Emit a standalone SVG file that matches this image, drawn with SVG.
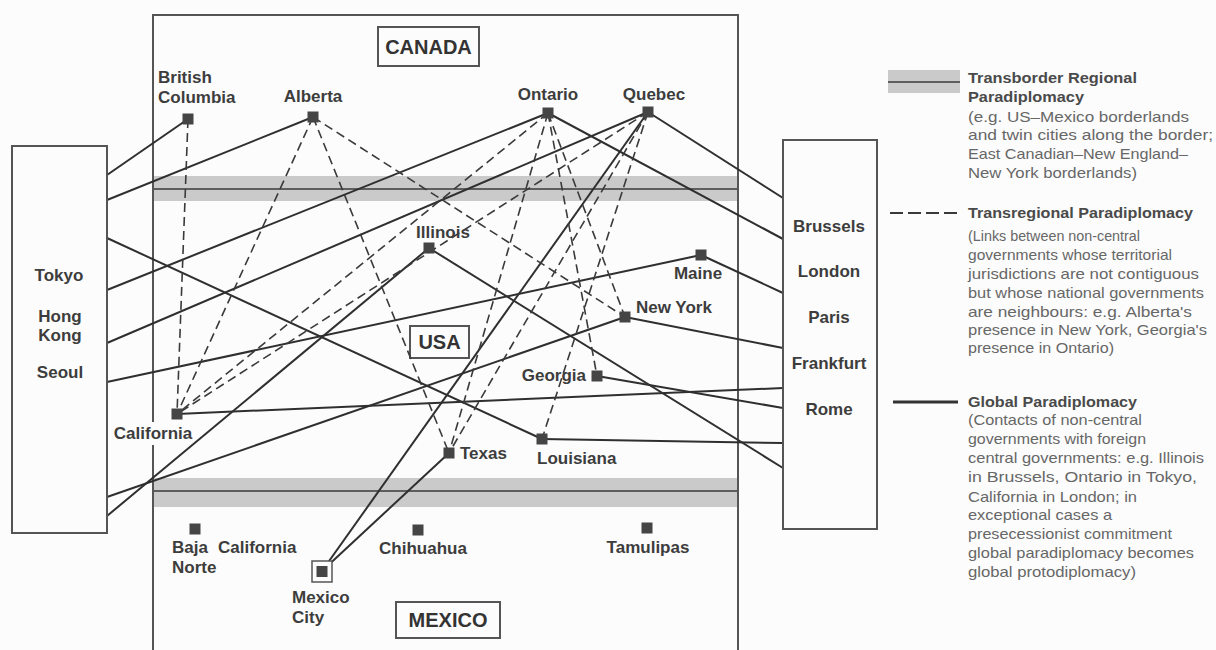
<svg xmlns="http://www.w3.org/2000/svg" width="1216" height="650" viewBox="0 0 1216 650">
  <style>
    .frame { fill: none; stroke: #555; stroke-width: 2; }
    .band { fill: #cacaca; }
    .bline { stroke: #3a3a3a; stroke-width: 1.6; }
    .sol { fill: none; stroke: #2f2f2f; stroke-width: 2; }
    .dsh { fill: none; stroke: #3a3a3a; stroke-width: 1.6; stroke-dasharray: 9 5; }
    .sq { fill: #454545; }
    .lbl { font-family: "Liberation Sans", Arial, sans-serif; font-weight: bold; font-size: 17px; fill: #3d3d3d; }
    .cty { font-size: 20px; fill: #333; }
    .lgh { font-family: "Liberation Sans", Arial, sans-serif; font-weight: bold; font-size: 14.5px; fill: #4a4a4a; }
    .lgt { font-family: "Liberation Sans", Arial, sans-serif; font-size: 14.5px; fill: #676767; }
  </style>

  <rect x="0" y="0" width="1216" height="650" fill="#fcfcfc"/>

  <!-- North American frame (left edge broken by the California label) -->
  <g id="frame">
    <path class="frame" d="M153,422 V15 H738 V650"/>
    <path class="frame" d="M153,445 V650"/>
    <!-- Canada / USA border zone -->
    <rect class="band" x="154" y="176" width="583" height="25"/>
    <line class="bline" x1="154" y1="189" x2="737" y2="189"/>
    <!-- USA / Mexico border zone -->
    <rect class="band" x="154" y="478" width="583" height="29"/>
    <line class="bline" x1="154" y1="491" x2="737" y2="491"/>
  </g>

  <!-- Country captions -->
  <g id="country-canada">
    <rect class="frame" x="378" y="27" width="101" height="39"/>
    <text class="lbl cty" x="428.5" y="54" text-anchor="middle">CANADA</text>
  </g>
  <g id="country-usa">
    <rect class="frame" x="410" y="326" width="59" height="32"/>
    <text class="lbl cty" x="439.5" y="349" text-anchor="middle">USA</text>
  </g>
  <g id="country-mexico">
    <rect class="frame" x="396" y="602" width="104" height="36"/>
    <text class="lbl cty" x="448" y="627" text-anchor="middle">MEXICO</text>
  </g>

  <!-- Connectors -->
  <g id="connectors">
    <!-- global paradiplomacy: Asia -->
    <line class="sol" x1="107" y1="175" x2="188" y2="119"/>
    <line class="sol" x1="107" y1="200" x2="313" y2="117"/>
    <line class="sol" x1="107" y1="238" x2="542" y2="439"/>
    <line class="sol" x1="107" y1="290" x2="548" y2="113"/>
    <line class="sol" x1="107" y1="343" x2="648" y2="112"/>
    <line class="sol" x1="107" y1="382" x2="701" y2="255"/>
    <line class="sol" x1="107" y1="497" x2="625" y2="317"/>
    <line class="sol" x1="107" y1="516" x2="429" y2="248"/>
    <!-- global paradiplomacy: Europe -->
    <line class="sol" x1="648" y1="112" x2="783" y2="198"/>
    <line class="sol" x1="548" y1="113" x2="783" y2="239"/>
    <line class="sol" x1="701" y1="255" x2="783" y2="293"/>
    <line class="sol" x1="625" y1="317" x2="783" y2="348"/>
    <line class="sol" x1="177" y1="414" x2="783" y2="388"/>
    <line class="sol" x1="597" y1="376" x2="783" y2="408"/>
    <line class="sol" x1="542" y1="439" x2="783" y2="443"/>
    <line class="sol" x1="429" y1="248" x2="783" y2="468"/>
    <!-- Mexico City -->
    <line class="sol" x1="322" y1="571" x2="648" y2="112"/>
    <line class="sol" x1="322" y1="571" x2="449" y2="453"/>

    <!-- transregional paradiplomacy -->
    <line class="dsh" x1="188" y1="119" x2="177" y2="414"/>
    <line class="dsh" x1="313" y1="117" x2="177" y2="414"/>
    <line class="dsh" x1="313" y1="117" x2="449" y2="453"/>
    <line class="dsh" x1="313" y1="117" x2="625" y2="317"/>
    <line class="dsh" x1="548" y1="113" x2="177" y2="414"/>
    <line class="dsh" x1="548" y1="113" x2="449" y2="453"/>
    <line class="dsh" x1="548" y1="113" x2="597" y2="376"/>
    <line class="dsh" x1="548" y1="113" x2="625" y2="317"/>
    <line class="dsh" x1="648" y1="112" x2="177" y2="414"/>
    <line class="dsh" x1="648" y1="112" x2="449" y2="453"/>
    <line class="dsh" x1="648" y1="112" x2="542" y2="439"/>
  </g>

  <!-- Foreign partners -->
  <g id="asia">
    <rect x="12" y="146" width="95" height="387" fill="#fcfcfc" stroke="#555" stroke-width="2"/>
    <text class="lbl" x="59" y="281" text-anchor="middle">Tokyo</text>
    <text class="lbl" x="60" y="322" text-anchor="middle">Hong</text>
    <text class="lbl" x="60" y="341" text-anchor="middle">Kong</text>
    <text class="lbl" x="60" y="378" text-anchor="middle">Seoul</text>
  </g>
  <g id="europe">
    <rect x="783" y="140" width="94" height="389" fill="#fcfcfc" stroke="#555" stroke-width="2"/>
    <text class="lbl" x="829" y="232" text-anchor="middle">Brussels</text>
    <text class="lbl" x="829" y="277" text-anchor="middle">London</text>
    <text class="lbl" x="829" y="323" text-anchor="middle">Paris</text>
    <text class="lbl" x="829" y="369" text-anchor="middle">Frankfurt</text>
    <text class="lbl" x="829" y="415" text-anchor="middle">Rome</text>
  </g>

  <!-- Canadian provinces -->
  <g id="british-columbia">
    <rect class="sq" x="182.5" y="113.5" width="11" height="11"/>
    <text class="lbl" x="158" y="83">British</text>
    <text class="lbl" x="158" y="103">Columbia</text>
  </g>
  <g id="alberta">
    <rect class="sq" x="307.5" y="111.5" width="11" height="11"/>
    <text class="lbl" x="313" y="102" text-anchor="middle">Alberta</text>
  </g>
  <g id="ontario">
    <rect class="sq" x="542.5" y="107.5" width="11" height="11"/>
    <text class="lbl" x="548" y="100" text-anchor="middle">Ontario</text>
  </g>
  <g id="quebec">
    <rect class="sq" x="642.5" y="106.5" width="11" height="11"/>
    <text class="lbl" x="654" y="100" text-anchor="middle">Quebec</text>
  </g>

  <!-- US states -->
  <g id="illinois">
    <rect class="sq" x="423.5" y="242.5" width="11" height="11"/>
    <text class="lbl" x="443" y="238" text-anchor="middle">Illinois</text>
  </g>
  <g id="maine">
    <rect class="sq" x="695.5" y="249.5" width="11" height="11"/>
    <text class="lbl" x="698" y="279" text-anchor="middle">Maine</text>
  </g>
  <g id="new-york">
    <rect class="sq" x="619.5" y="311.5" width="11" height="11"/>
    <text class="lbl" x="636" y="313">New York</text>
  </g>
  <g id="georgia">
    <rect class="sq" x="591.5" y="370.5" width="11" height="11"/>
    <text class="lbl" x="586" y="381" text-anchor="end">Georgia</text>
  </g>
  <g id="california">
    <rect class="sq" x="171.5" y="408.5" width="11" height="11"/>
    <text class="lbl" x="153" y="439" text-anchor="middle">California</text>
  </g>
  <g id="texas">
    <rect class="sq" x="443.5" y="447.5" width="11" height="11"/>
    <text class="lbl" x="460" y="459">Texas</text>
  </g>
  <g id="louisiana">
    <rect class="sq" x="536.5" y="433.5" width="11" height="11"/>
    <text class="lbl" x="537" y="464">Louisiana</text>
  </g>

  <!-- Mexican states -->
  <g id="baja-california-norte">
    <rect class="sq" x="189.5" y="523.5" width="11" height="11"/>
    <text class="lbl" x="172" y="553">Baja <tspan x="218">California</tspan></text>
    <text class="lbl" x="172" y="573">Norte</text>
  </g>
  <g id="chihuahua">
    <rect class="sq" x="412.5" y="524.5" width="11" height="11"/>
    <text class="lbl" x="423" y="554" text-anchor="middle">Chihuahua</text>
  </g>
  <g id="tamulipas">
    <rect class="sq" x="641.5" y="522.5" width="11" height="11"/>
    <text class="lbl" x="648" y="553" text-anchor="middle">Tamulipas</text>
  </g>
  <g id="mexico-city">
    <rect x="312" y="561" width="20" height="21" fill="#fcfcfc" stroke="#555" stroke-width="1.5"/>
    <rect class="sq" x="316.5" y="566" width="11" height="11"/>
    <text class="lbl" x="292" y="603">Mexico</text>
    <text class="lbl" x="292" y="623">City</text>
  </g>

  <!-- Key -->
  <g id="legend-transborder">
    <rect class="band" x="888" y="70" width="72" height="23"/>
    <line class="bline" x1="888" y1="82" x2="960" y2="82"/>
    <text class="lgh" x="968" y="83" textLength="169" lengthAdjust="spacingAndGlyphs">Transborder Regional</text>
    <text class="lgh" x="968" y="102" textLength="116" lengthAdjust="spacingAndGlyphs">Paradiplomacy</text>
    <text class="lgt" x="968" y="122" textLength="221" lengthAdjust="spacingAndGlyphs">(e.g. US–Mexico borderlands</text>
    <text class="lgt" x="968" y="140" textLength="245" lengthAdjust="spacingAndGlyphs">and twin cities along the border;</text>
    <text class="lgt" x="968" y="159" textLength="220" lengthAdjust="spacingAndGlyphs">East Canadian–New England–</text>
    <text class="lgt" x="968" y="178" textLength="169" lengthAdjust="spacingAndGlyphs">New York borderlands)</text>
  </g>
  <g id="legend-transregional">
    <line class="dsh" x1="890" y1="213" x2="958" y2="213" style="stroke-width:2.2;stroke-dasharray:13 5"/>
    <text class="lgh" x="968" y="218" textLength="225" lengthAdjust="spacingAndGlyphs">Transregional Paradiplomacy</text>
    <text class="lgt" x="968" y="241" textLength="172" lengthAdjust="spacingAndGlyphs">(Links between non-central</text>
    <text class="lgt" x="968" y="260" textLength="204" lengthAdjust="spacingAndGlyphs">governments whose territorial</text>
    <text class="lgt" x="968" y="279" textLength="231" lengthAdjust="spacingAndGlyphs">jurisdictions are not contiguous</text>
    <text class="lgt" x="968" y="298" textLength="236" lengthAdjust="spacingAndGlyphs">but whose national governments</text>
    <text class="lgt" x="968" y="317" textLength="224" lengthAdjust="spacingAndGlyphs">are neighbours:  e.g. Alberta's</text>
    <text class="lgt" x="968" y="335" textLength="239" lengthAdjust="spacingAndGlyphs">presence in New York, Georgia's</text>
    <text class="lgt" x="968" y="353" textLength="146" lengthAdjust="spacingAndGlyphs">presence in Ontario)</text>
  </g>
  <g id="legend-global">
    <line x1="893" y1="402" x2="958" y2="402" stroke="#333" stroke-width="3"/>
    <text class="lgh" x="968" y="407" textLength="169" lengthAdjust="spacingAndGlyphs">Global Paradiplomacy</text>
    <text class="lgt" x="968" y="425" textLength="174" lengthAdjust="spacingAndGlyphs">(Contacts of non-central</text>
    <text class="lgt" x="968" y="444" textLength="178" lengthAdjust="spacingAndGlyphs">governments with foreign</text>
    <text class="lgt" x="968" y="463" textLength="236" lengthAdjust="spacingAndGlyphs">central governments: e.g. Illinois</text>
    <text class="lgt" x="968" y="482" textLength="229" lengthAdjust="spacingAndGlyphs">in Brussels, Ontario in Tokyo,</text>
    <text class="lgt" x="968" y="502" textLength="169" lengthAdjust="spacingAndGlyphs">California in London; in</text>
    <text class="lgt" x="968" y="520" textLength="144" lengthAdjust="spacingAndGlyphs">exceptional cases a</text>
    <text class="lgt" x="968" y="539" textLength="204" lengthAdjust="spacingAndGlyphs">presecessionist commitment</text>
    <text class="lgt" x="968" y="558" textLength="226" lengthAdjust="spacingAndGlyphs">global paradiplomacy becomes</text>
    <text class="lgt" x="968" y="577" textLength="168" lengthAdjust="spacingAndGlyphs">global protodiplomacy)</text>
  </g>
</svg>
